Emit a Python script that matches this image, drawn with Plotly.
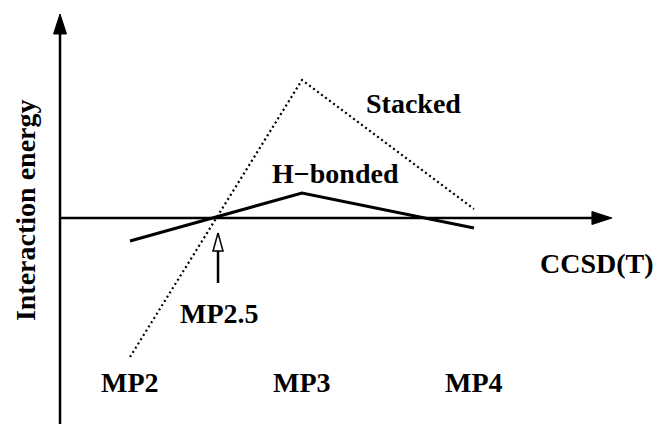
import plotly.graph_objects as go

# ---- data (schematic, arbitrary energy units) ----
methods = ["MP2", "MP3", "MP4"]
method_x = [2, 3, 4]
stacked = [-1.39, 1.38, 0.09]
hbonded = [-0.23, 0.25, -0.10]
mp25_x = 2.5
mp25_label = "MP2.5"
ref_label = "CCSD(T)"
y_label = "Interaction energy"

# ---- geometry ----
W, H = 657, 424
XR = [1.244, 5.064]
YR = [-2.06, 2.18]
px_x = W / (XR[1] - XR[0])   # pixels per x unit
px_y = H / (YR[1] - YR[0])   # pixels per y unit

x_axis_start, x_axis_end = 1.593, 4.802
y_axis_bottom, y_axis_top = YR[0], 2.04

FONT = dict(family="Liberation Serif", size=28, color="black", weight="bold")

fig = go.Figure()

# axis lines
fig.add_trace(go.Scatter(x=[x_axis_start, x_axis_end - 12 / px_x], y=[0, 0], mode="lines",
                         line=dict(color="black", width=2.5), hoverinfo="skip"))
fig.add_trace(go.Scatter(x=[x_axis_start, x_axis_start], y=[y_axis_bottom, y_axis_top - 12 / px_y],
                         mode="lines", line=dict(color="black", width=2.5), hoverinfo="skip"))

# arrowheads for axes (filled elongated triangles)
L, Wd = 20, 13
fig.add_trace(go.Scatter(
    x=[x_axis_end, x_axis_end - L / px_x, x_axis_end - L / px_x, x_axis_end],
    y=[0, Wd / 2 / px_y, -Wd / 2 / px_y, 0],
    mode="lines", fill="toself", fillcolor="black", line=dict(color="black", width=1),
    hoverinfo="skip"))
fig.add_trace(go.Scatter(
    x=[x_axis_start, x_axis_start - Wd / 2 / px_x, x_axis_start + Wd / 2 / px_x, x_axis_start],
    y=[y_axis_top, y_axis_top - L / px_y, y_axis_top - L / px_y, y_axis_top],
    mode="lines", fill="toself", fillcolor="black", line=dict(color="black", width=1),
    hoverinfo="skip"))

# series
fig.add_trace(go.Scatter(x=method_x, y=stacked, mode="lines",
                         line=dict(color="black", width=2.2, dash="2px,3px"), hoverinfo="skip"))
fig.add_trace(go.Scatter(x=method_x, y=hbonded, mode="lines",
                         line=dict(color="black", width=3), hoverinfo="skip"))

# MP2.5 arrow (hollow head)
tip_y, shaft_end_y = -0.15, -0.65
hl, hw = 18, 10
arrow_x = mp25_x + 2 / px_x
fig.add_trace(go.Scatter(x=[arrow_x, arrow_x], y=[tip_y - hl / px_y, shaft_end_y], mode="lines",
                         line=dict(color="black", width=2.5), hoverinfo="skip"))
fig.add_trace(go.Scatter(
    x=[arrow_x, arrow_x - hw / 2 / px_x, arrow_x + hw / 2 / px_x, arrow_x],
    y=[tip_y, tip_y - hl / px_y, tip_y - hl / px_y, tip_y],
    mode="lines", fill="toself", fillcolor="white", line=dict(color="black", width=1.5),
    hoverinfo="skip"))

# labels
for m, x in zip(methods, method_x):
    fig.add_annotation(x=x, y=-1.64, text=m, showarrow=False, font=FONT)
fig.add_annotation(x=mp25_x + 3 / px_x, y=-0.95, text=mp25_label, showarrow=False, font=FONT)
fig.add_annotation(x=3.195, y=0.45, text="H\u2212bonded", showarrow=False, font=FONT)
fig.add_annotation(x=3.651, y=1.15, text="Stacked", showarrow=False, font=FONT)
fig.add_annotation(x=4.715, y=-0.45, text=ref_label, showarrow=False, font=FONT)
fig.add_annotation(x=1.39, y=0.08, text=y_label, showarrow=False, font=FONT, textangle=-90)

fig.update_layout(
    width=W, height=H, margin=dict(l=0, r=0, t=0, b=0),
    paper_bgcolor="white", plot_bgcolor="white", showlegend=False,
    xaxis=dict(range=XR, visible=False, fixedrange=True),
    yaxis=dict(range=YR, visible=False, fixedrange=True),
)
fig.write_html("out.html", config={"displayModeBar": False},
               post_script="document.body.style.margin='0';document.body.style.overflow='hidden';")
